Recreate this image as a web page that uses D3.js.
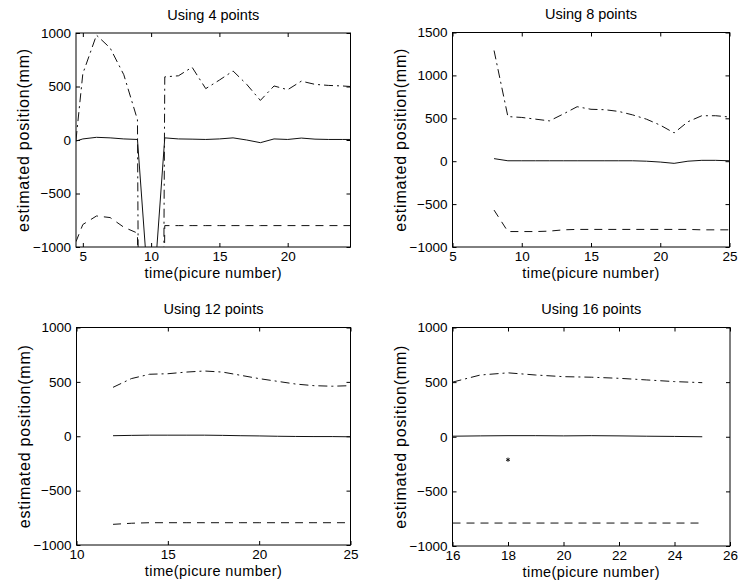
<!DOCTYPE html>
<html>
<head>
<meta charset="utf-8">
<script src="https://cdn.jsdelivr.net/npm/d3@7"></script>
<style>
  body { margin: 0; background: #fff; }
  svg text { font-family: "Liberation Sans", Arial, Helvetica, sans-serif; fill: #000; }
</style>
</head>
<body>
<svg id="chart" width="739" height="585"></svg>
<script>
// ---- data ----
// panel 1: using 4 points
const time4 = [4.5, 5, 6, 7, 8, 9, 10, 11, 12, 13, 14, 15, 16, 17, 18, 19, 20, 21, 22, 23, 24, 24.6];
const dashdot4 = [0, 620, 980, 860, 610, 190, -24000, 590, 600, 680, 480, 560, 645, 520, 370, 505, 470, 550, 520, 510, 505, 500];
const solid4 = [-10, 10, 25, 20, 10, 5, -1750, 20, 10, 8, 5, 10, 20, 0, -25, 10, 5, 18, 8, 5, 5, 5];
const dashed4 = [-950, -790, -710, -725, -815, -870, -15000, -800, -800, -800, -800, -800, -800, -800, -800, -800, -800, -800, -800, -800, -800, -800];

// panel 2: using 8 points
const time8 = [8, 9, 10, 11, 12, 13, 14, 15, 16, 17, 18, 19, 20, 21, 22, 23, 24, 25];
const dashdot8 = [1290, 520, 510, 490, 470, 550, 635, 605, 600, 580, 540, 490, 420, 330, 460, 530, 530, 515];
const solid8 = [30, 5, 5, 5, 5, 5, 5, 5, 5, 5, 5, 0, -10, -25, 0, 10, 10, 5];
const dashed8 = [-570, -820, -820, -820, -815, -800, -795, -795, -795, -795, -795, -795, -795, -795, -795, -800, -800, -800];

// panel 3: using 12 points
const time12 = [12, 13, 14, 15, 16, 17, 18, 19, 20, 21, 22, 23, 24, 25];
const dashdot12 = [450, 530, 570, 575, 590, 600, 590, 560, 530, 505, 480, 465, 460, 465];
const solid12 = [5, 8, 10, 10, 10, 10, 8, 5, 3, 0, -2, -3, -3, -5];
const dashed12 = [-810, -800, -795, -795, -795, -795, -795, -795, -795, -795, -795, -795, -795, -795];

// panel 4: using 16 points
const time16 = [16, 17, 18, 19, 20, 21, 22, 23, 24, 25];
const dashdot16 = [500, 565, 585, 565, 550, 545, 535, 520, 505, 495];
const solid16 = [5, 8, 10, 10, 8, 10, 8, 5, 3, 0];
const dashed16 = [-790, -790, -790, -790, -790, -790, -790, -790, -790, -790];
const starTime16 = [18];
const starValue16 = [-210];

// tick labels
const titles = ["Using 4 points", "Using 8 points", "Using 12 points", "Using 16 points"];
const xTicks4 = [5, 10, 15, 20];
const xTicks8 = [5, 10, 15, 20, 25];
const xTicks12 = [10, 15, 20, 25];
const xTicks16 = [16, 18, 20, 22, 24, 26];
const yTicksA = [-1000, -500, 0, 500, 1000];
const yTicksB = [-1000, -500, 0, 500, 1000, 1500];

const xLabel = "time(picure number)";
const yLabel = "estimated position(mm)";

const svg = d3.select("#chart");

const panels = [
  { id: 1, left: 76, top: 33, right: 350.5, bottom: 247, xDomain: [4.5, 24.6], yDomain: [-1000, 1000],
    xTicks: xTicks4, yTicks: yTicksA, time: time4, dashdot: dashdot4, solid: solid4, dashed: dashed4 },
  { id: 2, left: 452.5, top: 32.5, right: 729.5, bottom: 247, xDomain: [5, 25], yDomain: [-1000, 1500],
    xTicks: xTicks8, yTicks: yTicksB, time: time8, dashdot: dashdot8, solid: solid8, dashed: dashed8 },
  { id: 3, left: 76.5, top: 327.5, right: 350.5, bottom: 545, xDomain: [10, 25], yDomain: [-1000, 1000],
    xTicks: xTicks12, yTicks: yTicksA, time: time12, dashdot: dashdot12, solid: solid12, dashed: dashed12 },
  { id: 4, left: 452.5, top: 327.5, right: 730, bottom: 546, xDomain: [16, 26], yDomain: [-1000, 1000],
    xTicks: xTicks16, yTicks: yTicksA, time: time16, dashdot: dashdot16, solid: solid16, dashed: dashed16,
    starTime: starTime16, starValue: starValue16 }
];

function drawPanel(p, i) {
  const x = d3.scaleLinear().domain(p.xDomain).range([p.left, p.right]);
  const y = d3.scaleLinear().domain(p.yDomain).range([p.bottom, p.top]);
  const g = svg.append("g");
  const fmt = d3.format("d");

  g.append("clipPath").attr("id", "clip" + p.id)
    .append("rect")
    .attr("x", p.left).attr("y", p.top)
    .attr("width", p.right - p.left).attr("height", p.bottom - p.top);

  // bottom and left axes with inward ticks
  g.append("g")
    .attr("transform", "translate(0," + p.bottom + ")")
    .call(d3.axisBottom(x).tickValues(p.xTicks).tickFormat(fmt).tickSizeInner(-4).tickSizeOuter(0).tickPadding(4))
    .call(a => a.select(".domain").remove())
    .selectAll("text").style("font-size", "13.5px");

  g.append("g")
    .attr("transform", "translate(" + p.left + ",0)")
    .call(d3.axisLeft(y).tickValues(p.yTicks).tickFormat(fmt).tickSizeInner(-4).tickSizeOuter(0).tickPadding(5))
    .call(a => a.select(".domain").remove())
    .selectAll("text").style("font-size", "13.5px");

  // mirrored ticks on top and right
  g.append("g")
    .attr("transform", "translate(0," + p.top + ")")
    .call(d3.axisTop(x).tickValues(p.xTicks).tickFormat("").tickSizeInner(-4).tickSizeOuter(0))
    .call(a => a.select(".domain").remove());

  g.append("g")
    .attr("transform", "translate(" + p.right + ",0)")
    .call(d3.axisRight(y).tickValues(p.yTicks).tickFormat("").tickSizeInner(-4).tickSizeOuter(0))
    .call(a => a.select(".domain").remove());

  g.append("rect")
    .attr("x", p.left).attr("y", p.top)
    .attr("width", p.right - p.left).attr("height", p.bottom - p.top)
    .attr("fill", "none").attr("stroke", "#000").attr("stroke-width", 1);

  const line = d3.line()
    .x(d => x(d[0]))
    .y(d => y(d[1]));

  const series = [
    { values: p.solid, dash: null },
    { values: p.dashdot, dash: "9,4,2,4" },
    { values: p.dashed, dash: "8,6" }
  ];

  series.forEach(s => {
    g.append("path")
      .datum(p.time.map((t, k) => [t, s.values[k]]))
      .attr("clip-path", "url(#clip" + p.id + ")")
      .attr("fill", "none")
      .attr("stroke", "#111")
      .attr("stroke-width", 1)
      .attr("stroke-dasharray", s.dash)
      .attr("d", line);
  });

  if (p.starTime) {
    const sym = d3.symbol().type(d3.symbolAsterisk || d3.symbolCross).size(12);
    g.selectAll(".star")
      .data(p.starTime.map((t, k) => [t, p.starValue[k]]))
      .enter()
      .append("path")
      .attr("transform", d => "translate(" + x(d[0]) + "," + y(d[1]) + ")")
      .attr("d", sym)
      .attr("fill", "none")
      .attr("stroke", "#111")
      .attr("stroke-width", 1);
  }

  // title and axis labels
  const cx = (p.left + p.right) / 2;
  g.append("text")
    .attr("x", cx).attr("y", p.top - 13.5)
    .attr("text-anchor", "middle")
    .style("font-size", "14.5px")
    .text(titles[i]);

  g.append("text")
    .attr("x", cx).attr("y", p.bottom + 31)
    .attr("text-anchor", "middle")
    .style("font-size", "14.5px")
    .style("letter-spacing", "0.4px")
    .text(xLabel);

  g.append("text")
    .attr("transform", "translate(" + (p.left - 47) + "," + ((p.top + p.bottom) / 2) + ")rotate(-90)")
    .attr("text-anchor", "middle")
    .style("font-size", "16px")
    .style("letter-spacing", "0.8px")
    .text(yLabel);
}

panels.forEach(drawPanel);
</script>
</body>
</html>
